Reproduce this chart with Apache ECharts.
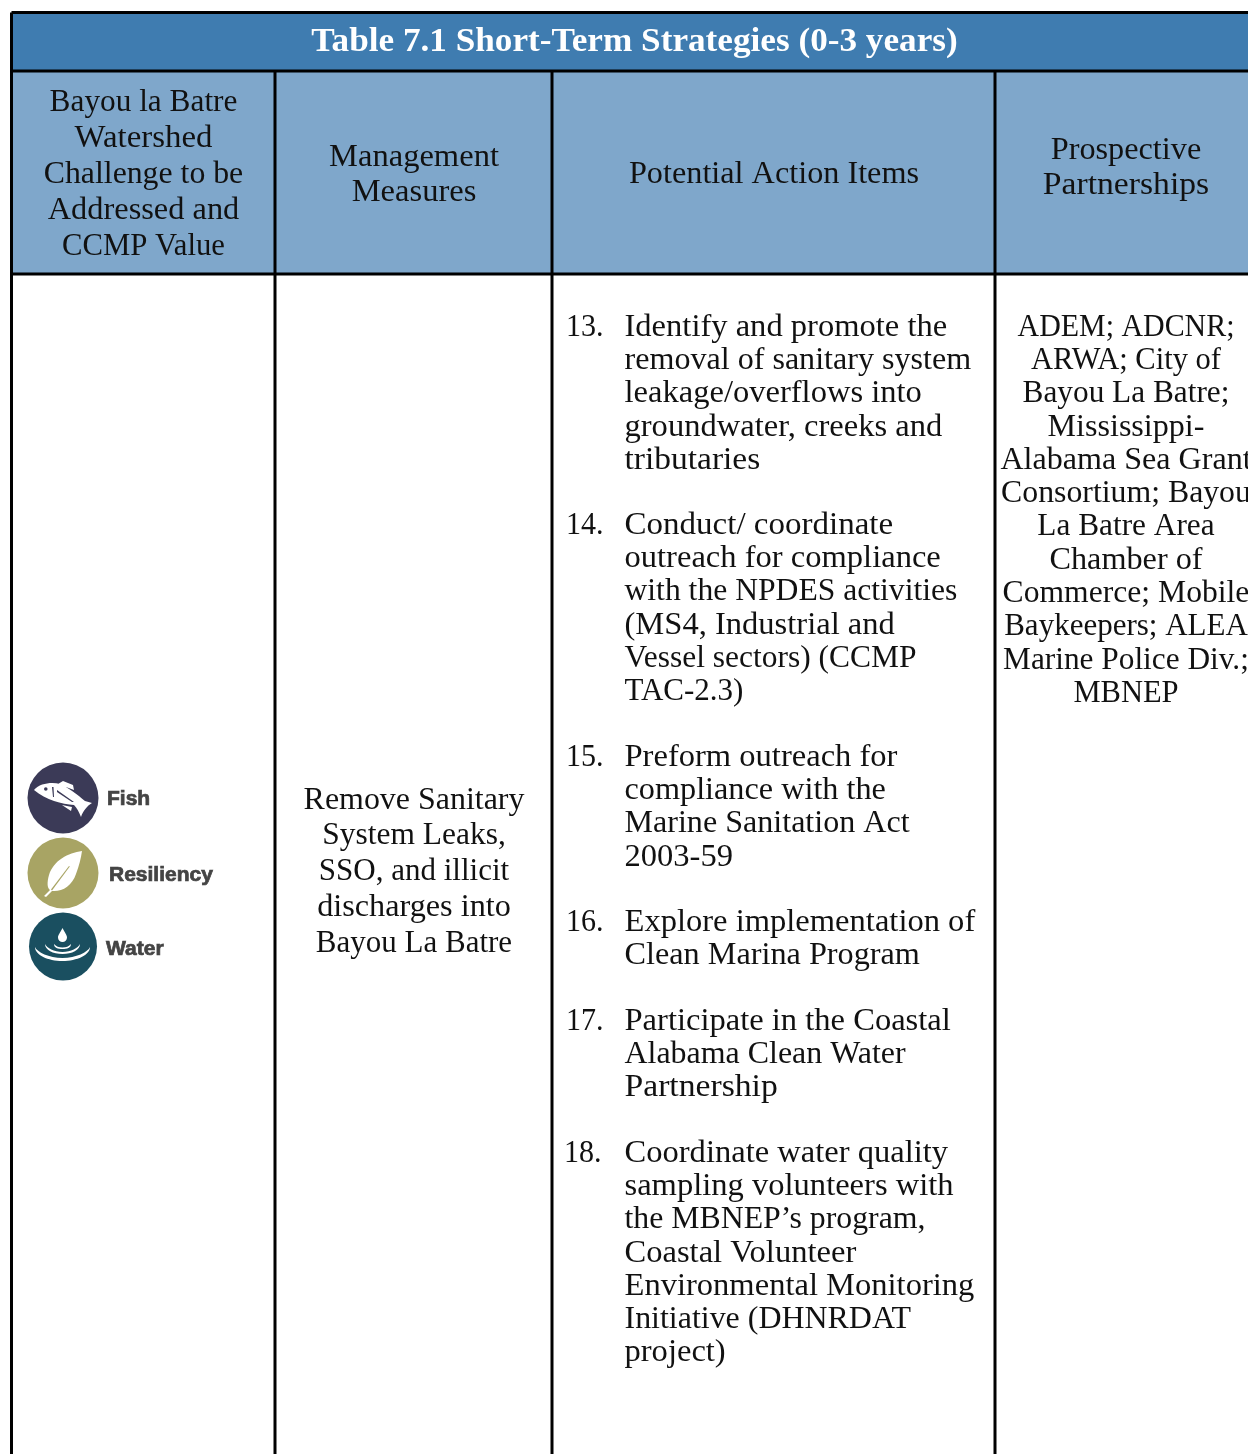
<!DOCTYPE html>
<html><head><meta charset="utf-8">
<style>html,body{margin:0;padding:0;background:#fff}#c{width:1248px;height:1454px}</style>
<script src="https://cdn.jsdelivr.net/npm/echarts@6/dist/echarts.min.js"></script>
</head><body><div id="c"></div>
<script>
const titleText = 'Table 7.1 Short-Term Strategies (0-3 years)';
const headerCol1 = ['Bayou la Batre','Watershed','Challenge to be','Addressed and','CCMP Value'];
const headerCol2 = ['Management','Measures'];
const headerCol3 = ['Potential Action Items'];
const headerCol4 = ['Prospective','Partnerships'];
const measureLines = ['Remove Sanitary','System Leaks,','SSO, and illicit','discharges into','Bayou La Batre'];
const partnerLines = ['ADEM; ADCNR;','ARWA; City of','Bayou La Batre;','Mississippi-','Alabama Sea Grant','Consortium; Bayou','La Batre Area','Chamber of','Commerce; Mobile','Baykeepers; ALEA','Marine Police Div.;','MBNEP'];
const itemNumbers = ['13.','14.','15.','16.','17.','18.'];
const item13 = ['Identify and promote the','removal of sanitary system','leakage/overflows into','groundwater, creeks and','tributaries'];
const item14 = ['Conduct/ coordinate','outreach for compliance','with the NPDES activities','(MS4, Industrial and','Vessel sectors) (CCMP','TAC-2.3)'];
const item15 = ['Preform outreach for','compliance with the','Marine Sanitation Act','2003-59'];
const item16 = ['Explore implementation of','Clean Marina Program'];
const item17 = ['Participate in the Coastal','Alabama Clean Water','Partnership'];
const item18 = ['Coordinate water quality','sampling volunteers with','the MBNEP’s program,','Coastal Volunteer','Environmental Monitoring','Initiative (DHNRDAT','project)'];
const iconLabels = ['Fish','Resiliency','Water'];

// layout of the table (canvas-sized value axes)
const colEdges = [11.5, 275, 552, 995, 1248];
const rowEdges = [12.5, 71, 274, 1454];
const itemFirstY = [325, 523, 755, 920, 1019, 1151];
const lineGap = 33.3;
const SERIF = '"Liberation Serif", serif';
const FS = 31;
const DY = 2.5;
// horizontal fit of the substitute serif, per line
const lineFit = {
  'with the NPDES activities': 1.02, 'Vessel sectors) (CCMP': 1.015, 'TAC-2.3)': 1.0, 'Initiative (DHNRDAT': 1.03,
  'removal of sanitary system': 1.035, 'Clean Marina Program': 1.04, 'Alabama Clean Water': 1.03, 'Partnership': 1.085,
  'the MBNEP’s program,': 1.025, 'Marine Sanitation Act': 1.035, 'compliance with the': 1.04, 'tributaries': 1.08,
  'Conduct/ coordinate': 1.065, 'ADEM; ADCNR;': 0.965, 'ARWA; City of': 0.985, 'Mississippi-': 1.035,
  'Alabama Sea Grant': 1.035, 'Consortium; Bayou': 1.025, 'Chamber of': 1.04, 'Commerce; Mobile': 1.02,
  'Baykeepers; ALEA': 1.0, 'MBNEP': 0.985, 'Bayou la Batre': 1.01, 'Watershed': 1.06, 'Addressed and': 1.045,
  'CCMP Value': 0.99, 'Partnerships': 1.085, 'System Leaks,': 1.015, 'SSO, and illicit': 1.0,
  'discharges into': 1.04, 'Bayou La Batre': 1.0
};

const texts = [];
function addLines(lines, x, y0, gap, align, opts) {
  lines.forEach((t, i) => {
    const o = Object.assign({t, x, y: y0 + DY + i * gap, align, size: FS, color: '#111', font: SERIF, weight: 'normal', sx: 1}, opts || {});
    if (lineFit[t] !== undefined) o.sx = lineFit[t];
    texts.push(o);
  });
}
addLines([titleText], 634.5, 40, 0, 'center', {size: 34, color: '#fff', weight: 'bold', sx: 1.035});
addLines(headerCol1, 143.5, 100, 36, 'center', {sx: 1.025});
addLines(headerCol2, 414, 155, 35, 'center', {sx: 1.05});
addLines(headerCol3, 774, 172, 0, 'center', {sx: 1.04});
addLines(headerCol4, 1126, 148, 35, 'center', {sx: 1.04});
addLines(measureLines, 414, 798, 35.8, 'center', {sx: 1.03});
addLines(partnerLines, 1126, 325, lineGap, 'center', {sx: 1.01});
[item13, item14, item15, item16, item17, item18].forEach((lines, k) => {
  addLines([itemNumbers[k]], k === 5 ? 564 : 566, itemFirstY[k], 0, 'left', {sx: 0.97});
  addLines(lines, 624.5, itemFirstY[k], lineGap, 'left', {sx: 1.05});
});
const iconLabelPos = [[107, 799.5], [109, 875], [106, 949]];
iconLabels.forEach((t, i) => texts.push({t, x: iconLabelPos[i][0], y: iconLabelPos[i][1], align: 'left', size: 20, color: '#444', font: '"Liberation Sans", sans-serif', weight: 'bold', sx: 1.05, heavy: 0.7}));

const rects = [
  [colEdges[0], rowEdges[0], 1248, rowEdges[1], '#3f7cb0'],
  [colEdges[0], rowEdges[1], 1248, rowEdges[2], '#7fa7cb']
];
const rules = [
  [colEdges[0], rowEdges[0], 1248, rowEdges[0]],
  [colEdges[0], rowEdges[1], 1248, rowEdges[1]],
  [colEdges[0], rowEdges[2], 1248, rowEdges[2]],
  [colEdges[0], rowEdges[0], colEdges[0], 1454],
  [colEdges[1], rowEdges[1], colEdges[1], 1454],
  [colEdges[2], rowEdges[1], colEdges[2], 1454],
  [colEdges[3], rowEdges[1], colEdges[3], 1454]
];
const discs = [[63, 798, 35.5, '#3b3a57'], [63, 873, 35.5, '#a8a464'], [63, 946.5, 34, '#1a4f60']];
const FRAME = 'M0 0L0 0M1248 1454L1248 1454';
const glyphs = [
  {d: 'M34 790C40 783 52 782 60 784C66 786 78 795 85 801L92 803C87 806 83 811 81 817C79 812 77 808 74 805C62 804 46 800 34 790Z M58 784L63 781L73 785L74 790Z M62 805L72 807L71 811Z', fill: '#fff'},
  {d: 'M44 789a1.8 1.8 0 1 0 3.6 0a1.8 1.8 0 1 0 -3.6 0Z M52 787L53 797L54 797L53.5 787Z M57 790L74 802L72 802L57 792Z', fill: '#3b3a57'},
  {d: 'M82 851C68 853 54 860 49 875C47 882 47 888 50 890L44 896L46 897L52 891C62 892 72 886 76 874C79 866 81 858 82 851Z', fill: '#fff'},
  {d: 'M51 889.5L69 866L69.8 866.6L52 890.5Z', fill: '#a8a464'},
  {d: 'M62.5 928C60 933 58 935 58 937.5A4.5 4.5 0 0 0 67 937.5C67 935 65 933 62.5 928Z', fill: '#fff'},
  {d: 'M35 947C35 955 48 961 62.5 961C77 961 90 955 90 947C88 952 76 958 62.5 958C49 958 37 952 35 947Z M45 944C45 950 53 954 62.5 954C72 954 80 950 80 944C78 948 71 952 62.5 952C54 952 47 948 45 944Z M54 944C54 948 58 949 62.5 949C67 949 71 948 71 944C69 946.5 66 947.5 62.5 947.5C59 947.5 56 946.5 54 944Z', fill: '#fff'}
];

const idx = a => a.map((_, i) => [i]);
const chart = echarts.init(document.getElementById('c'), null, {renderer: 'canvas', width: 1248, height: 1454});
chart.setOption({
  animation: false,
  backgroundColor: '#fff',
  tooltip: {show: false},
  grid: {left: 0, right: 0, top: 0, bottom: 0},
  xAxis: {type: 'value', min: 0, max: 1248, show: false},
  yAxis: {type: 'value', min: 0, max: 1454, inverse: true, show: false},
  series: [
    {type: 'custom', name: 'fills', silent: true, z: 1, data: idx(rects), renderItem(p, api) {
      const r = rects[api.value(0)], a = api.coord([r[0], r[1]]), b = api.coord([r[2], r[3]]);
      return {type: 'rect', shape: {x: a[0], y: a[1], width: b[0] - a[0], height: b[1] - a[1]}, style: {fill: r[4]}};
    }},
    {type: 'custom', name: 'rules', silent: true, z: 2, data: idx(rules), renderItem(p, api) {
      const r = rules[api.value(0)], a = api.coord([r[0], r[1]]), b = api.coord([r[2], r[3]]);
      return {type: 'line', shape: {x1: a[0], y1: a[1], x2: b[0], y2: b[1]}, style: {stroke: '#000', lineWidth: 3}};
    }},
    {type: 'custom', name: 'discs', silent: true, z: 3, data: idx(discs), renderItem(p, api) {
      const r = discs[api.value(0)], a = api.coord([r[0], r[1]]);
      return {type: 'circle', shape: {cx: a[0], cy: a[1], r: r[2]}, style: {fill: r[3]}};
    }},
    {type: 'custom', name: 'glyphs', silent: true, z: 4, data: idx(glyphs), renderItem(p, api) {
      const g = glyphs[api.value(0)], a = api.coord([0, 0]), b = api.coord([1248, 1454]);
      return {type: 'path', shape: {pathData: FRAME + g.d, x: a[0], y: a[1], width: b[0] - a[0], height: b[1] - a[1]}, layout: 'cover', style: {fill: g.fill}};
    }},
    {type: 'custom', name: 'text', silent: true, z: 5, data: idx(texts), renderItem(p, api) {
      const t = texts[api.value(0)], a = api.coord([t.x, t.y]);
      const style = {text: t.t, align: t.align, verticalAlign: 'middle', fill: t.color, fontFamily: t.font, fontSize: t.size, fontWeight: t.weight};
      if (t.heavy) { style.stroke = t.color; style.lineWidth = t.heavy; }
      return {type: 'text', x: a[0], y: a[1], scaleX: t.sx, style};
    }}
  ]
});
</script></body></html>
